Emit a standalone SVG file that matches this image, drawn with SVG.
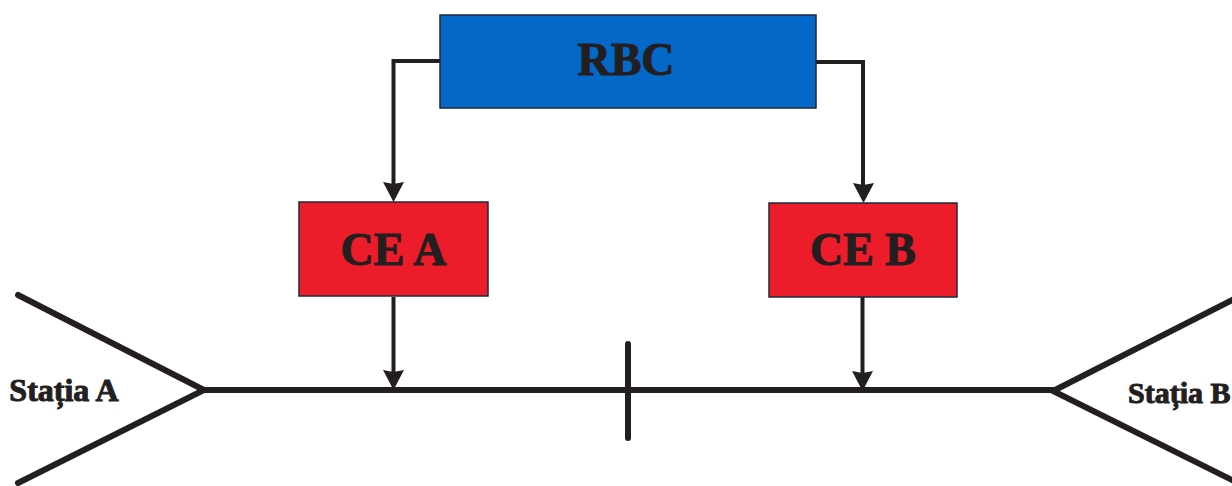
<svg xmlns="http://www.w3.org/2000/svg" width="1232" height="486" viewBox="0 0 1232 486">
<style>
.n{stroke:#1c2a3a;stroke-width:1.5}
.t{font-family:"Liberation Serif",serif;font-weight:bold;fill:#231f20;text-anchor:middle;stroke:#231f20;stroke-width:1}
.l{font-size:46px}
.s{font-size:32px}
.c{fill:none;stroke:#231f20;stroke-width:4}
.h{fill:#231f20}
.r{fill:none;stroke:#231f20;stroke-width:6;stroke-linecap:round;stroke-linejoin:miter}
</style>
<rect width="1232" height="486" fill="#fff"/>
<g id="track">
<path class="r" d="M18 295L204 390L18 483"/>
<path class="r" d="M204 390H1053"/>
<path class="r" d="M1240 296L1053 391L1240 484"/>
<path class="r" d="M628 344V438"/>
</g>
<g id="connectors">
<path class="c" d="M440 61H393.500V190"/>
<path class="h" d="M383 182L393.500 184L404 182L393.500 202Z"/>
<path class="c" d="M816 62H863V191"/>
<path class="h" d="M853 183L863.500 185L874 183L863.500 203Z"/>
<path class="c" d="M393.500 297V380"/>
<path class="h" d="M383 370L393.500 372L404 370L393.500 390Z"/>
<path class="c" d="M862.500 297V380"/>
<path class="h" d="M852 371L862.500 373L873 371L862.500 391Z"/>
</g>
<g id="rbc">
<rect class="n" x="440" y="15" width="376" height="93" fill="#0468c8"/>
<text class="t l" x="626" y="75">RBC</text>
</g>
<g id="ce-a">
<rect class="n" x="299" y="202" width="189" height="94" fill="#ed1c2b"/>
<text class="t l" x="393.500" y="265">CE A</text>
</g>
<g id="ce-b">
<rect class="n" x="769" y="203" width="188" height="94" fill="#ed1c2b"/>
<text class="t l" x="863" y="265">CE B</text>
</g>
<g id="statia-a">
<text class="t s" x="64" y="401">Stația A</text>
</g>
<g id="statia-b">
<text class="t" x="1128" y="403" font-size="30" style="text-anchor:start">Stația B</text>
</g>
</svg>
